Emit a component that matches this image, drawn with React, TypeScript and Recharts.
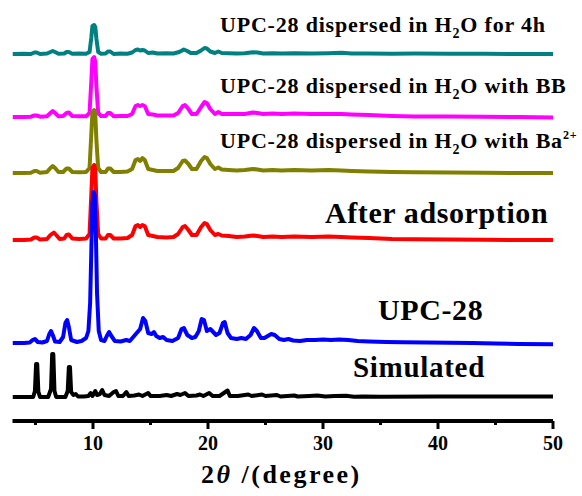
import { Line, LineChart, XAxis, YAxis } from 'recharts';

// 2θ (deg) vs relative intensity, each pattern measured from its own baseline
const forFourHours: [number, number][] = [
  [3, 0], [4, 0.3], [4.6, 0], [4.9, 1.5], [5.1, 1.5], [5.4, 0], [6.0, 0.5], [6.3, 2], [6.5, 3], [6.7, 2], [7.0, 0.3],
  [7.5, 0.5], [7.7, 2], [7.9, 2], [8.2, 0.3], [8.8, 0.5], [9.4, 0.3], [9.7, 2], [9.85, 16], [9.95, 28], [10.1, 29],
  [10.2, 27], [10.3, 15], [10.45, 2], [10.7, 0.3], [11.1, 0.5], [11.3, 2.5], [11.5, 2.5], [11.8, 0], [12.4, 0.5],
  [13.0, 0.3], [13.4, 1.5], [13.7, 4], [13.9, 4.5], [14.1, 3.5], [14.3, 4], [14.5, 3.5], [14.8, 1], [15.2, 1.5],
  [15.6, 0.5], [16.4, 0.8], [17.0, 0.5], [17.5, 2], [17.9, 4.5], [18.2, 3], [18.5, 1], [19.0, 1], [19.4, 3.5],
  [19.7, 6], [19.9, 5.5], [20.2, 2.5], [20.6, 1], [20.9, 2.5], [21.2, 1], [21.8, 0.8], [22.5, 0.5], [23.2, 0.8],
  [23.9, 1.8], [24.3, 1.5], [24.8, 0.5], [25.6, 0.8], [26.4, 0.5], [27.5, 0.8], [29, 0.5], [30.5, 0.8], [31.6, 1.2],
  [32.5, 0.5], [34, 0.6], [36, 0.3], [38, 0.4], [41, 0.2], [44, 0.3], [47, 0], [50, 0],
];

const withBB: [number, number][] = [
  [3, 0], [4, 0], [4.6, 0.3], [4.9, 1.5], [5.1, 1.5], [5.4, 0.3], [6.0, 0.8], [6.3, 4], [6.5, 6], [6.7, 4], [7.0, 0.8],
  [7.4, 1], [7.7, 4], [7.9, 4.5], [8.2, 1], [8.8, 0.8], [9.4, 0.8], [9.7, 4], [9.85, 35], [9.95, 58], [10.1, 60],
  [10.2, 55], [10.3, 30], [10.45, 4], [10.7, 1], [11.1, 1], [11.3, 4], [11.5, 4], [11.8, 0.8], [12.4, 1], [13.0, 1],
  [13.4, 3], [13.7, 11], [13.9, 12], [14.1, 11], [14.3, 12], [14.5, 11], [14.8, 3], [15.2, 2.5], [15.6, 1.5],
  [16.4, 1.5], [17.0, 1.5], [17.4, 4], [17.8, 11], [18.0, 12], [18.3, 8], [18.6, 3], [19.0, 3], [19.4, 10], [19.7, 15],
  [19.9, 14], [20.2, 8], [20.6, 3], [20.9, 5], [21.2, 3], [21.8, 3], [22.5, 3], [23.2, 3], [23.9, 4.5], [24.3, 4],
  [24.8, 3], [25.6, 3.5], [26.4, 3], [27.5, 3.5], [29, 3], [30.5, 3], [31.6, 3], [32.5, 2.5], [34, 2], [36, 1],
  [38, 0.5], [41, 0.5], [44, 0.3], [47, 0], [50, -0.5],
];

const withBa: [number, number][] = [
  [3, 0], [4, 0], [4.6, 0.3], [4.9, 2], [5.1, 2], [5.4, 0.3], [6.0, 1], [6.3, 5], [6.5, 7], [6.7, 5], [7.0, 1],
  [7.4, 1], [7.7, 4.5], [7.9, 4.5], [8.2, 1], [8.8, 0.8], [9.4, 1], [9.7, 5], [9.85, 38], [9.95, 61], [10.1, 63],
  [10.2, 58], [10.3, 32], [10.45, 5], [10.7, 1], [11.1, 1], [11.3, 4.5], [11.5, 4.5], [11.8, 1], [12.4, 1], [13.0, 1.5],
  [13.4, 4], [13.7, 13], [13.9, 14], [14.1, 12], [14.3, 15], [14.5, 13], [14.8, 4], [15.2, 3], [15.6, 2], [16.4, 2],
  [17.0, 2], [17.4, 5], [17.8, 12], [18.0, 12.5], [18.3, 9], [18.6, 4], [19.0, 4], [19.4, 12], [19.7, 16], [19.9, 15],
  [20.2, 9], [20.6, 4], [20.9, 5.5], [21.2, 3.5], [21.8, 3], [22.5, 2.5], [23.2, 3], [23.9, 4], [24.3, 3.5],
  [24.8, 2.5], [25.6, 3], [26.4, 2.5], [27.5, 3], [29, 2.5], [30.5, 3], [31.6, 2.5], [32.5, 2], [34, 1.5], [36, 1],
  [38, 0.8], [41, 0.5], [44, 0.3], [47, 0], [50, 0],
];

const afterAdsorption: [number, number][] = [
  [3, 0], [4, 0], [4.6, 0.5], [4.9, 2.5], [5.1, 2.5], [5.4, 0.5], [6.0, 1], [6.3, 5], [6.6, 7.5], [6.8, 5], [7.1, 1],
  [7.5, 1.5], [7.7, 5], [7.9, 5.5], [8.2, 1.5], [8.8, 1], [9.4, 1.5], [9.7, 6], [9.85, 45], [9.95, 72], [10.1, 75],
  [10.2, 70], [10.3, 38], [10.45, 6], [10.7, 1.5], [11.1, 1.5], [11.3, 5], [11.5, 5], [11.8, 1.5], [12.4, 1.5],
  [13.0, 2], [13.4, 5], [13.7, 14], [13.9, 15], [14.1, 13], [14.3, 15], [14.5, 14], [14.8, 5], [15.2, 4], [15.6, 3],
  [16.4, 2.5], [17.0, 3], [17.4, 6], [17.8, 13], [18.0, 14], [18.3, 10], [18.6, 5], [19.0, 5], [19.4, 13], [19.7, 17],
  [19.9, 16], [20.2, 10], [20.6, 5], [20.9, 6], [21.2, 4.5], [21.8, 4], [22.5, 3], [23.2, 3.5], [23.9, 4.5],
  [24.3, 4], [24.8, 3], [25.6, 3.5], [26.4, 3], [27.5, 3.5], [29, 3], [30.5, 3.5], [31.6, 3], [32.5, 2.5], [34, 2],
  [36, 1], [38, 0.8], [41, 0.5], [44, 0.3], [47, 0], [50, 0],
];

const upc28: [number, number][] = [
  [3, 0], [4, 0], [4.5, 0.5], [4.75, 3], [4.95, 4], [5.2, 1], [5.6, 0.5], [6.0, 2], [6.2, 9], [6.35, 12], [6.5, 8],
  [6.7, 1.5], [7.1, 1], [7.4, 6], [7.6, 20], [7.75, 23], [7.9, 16], [8.1, 3], [8.6, 1], [9.0, 2], [9.4, 5], [9.6, 12],
  [9.75, 40], [9.85, 90], [9.95, 140], [10.05, 151], [10.15, 148], [10.25, 110], [10.35, 50], [10.5, 12], [10.7, 3],
  [11.0, 2], [11.2, 7], [11.4, 11], [11.6, 7], [11.9, 2], [12.4, 1.5], [12.9, 3], [13.2, 2], [13.5, 6], [13.8, 10],
  [14.1, 14], [14.35, 25], [14.55, 22], [14.8, 10], [15.1, 9], [15.3, 11], [15.5, 7], [15.8, 5], [16.1, 6],
  [16.4, 3], [16.9, 2], [17.4, 5], [17.7, 14], [17.9, 15], [18.2, 8], [18.6, 5], [18.9, 6], [19.2, 12], [19.45, 24],
  [19.65, 23], [19.9, 12], [20.2, 14], [20.45, 11], [20.7, 8], [21.0, 10], [21.3, 20], [21.45, 21], [21.7, 10],
  [22.0, 5], [22.5, 4], [22.9, 5], [23.3, 4], [23.7, 8], [24.0, 15], [24.25, 12], [24.6, 5], [24.9, 5], [25.2, 7],
  [25.5, 9], [25.8, 8], [26.2, 4], [26.6, 3], [27.0, 4], [27.4, 2.5], [28.0, 2], [28.6, 3], [29.3, 3], [30.0, 3.5],
  [30.7, 3], [31.4, 3.5], [32.2, 3], [33, 2], [34, 1.5], [35.5, 1], [37, 0.8], [39, 0.5], [41, 0.3], [43, 0],
  [45, -0.5], [47, -1], [50, -1.2],
];

const simulated: [number, number][] = [
  [3, 0], [4, 0], [4.8, 0], [4.95, 6], [5.05, 33], [5.15, 33], [5.25, 5], [5.4, 0], [6.1, 0], [6.35, 8], [6.45, 43],
  [6.55, 43], [6.65, 6], [6.8, 0], [7.6, 0], [7.8, 6], [7.9, 30], [8.0, 30], [8.1, 5], [8.3, 2], [8.5, 3], [8.7, 0.5],
  [9.2, 0.5], [9.6, 1], [9.8, 4], [9.95, 1], [10.2, 6], [10.35, 2], [10.6, 3], [10.8, 7], [11.0, 2], [11.4, 1],
  [11.8, 5], [12.0, 6], [12.2, 1], [12.6, 1], [12.9, 5], [13.1, 1], [13.6, 1.5], [14.0, 2.5], [14.3, 1], [14.8, 4],
  [15.0, 1], [15.8, 1], [16.4, 2], [16.8, 1], [17.3, 3], [17.6, 2], [18.0, 4], [18.3, 1], [19.0, 1.5], [19.3, 2.5],
  [19.6, 1], [20.1, 4], [20.4, 1], [21.0, 1], [21.7, 6.5], [21.9, 1], [22.6, 1], [23.5, 2.5], [23.8, 1], [24.7, 2.5],
  [25.0, 1], [26.0, 2], [26.3, 0.5], [27.5, 1.5], [27.8, 0.5], [28.8, 1], [29.5, 1.5], [30.2, 0.5], [31.0, 1],
  [32.0, 1.2], [32.7, 0.3], [33.5, 0.5], [35, 0.3], [40, 0.5], [45, 0.5], [50, 0.5],
];

const xTicks = [5, 10, 15, 20, 25, 30, 35, 40, 45, 50];

// stacking: vertical offset of each pattern's baseline (drawn top to bottom so lower traces sit on top)
const traces = [
  { key: 'h2o4h', points: forFourHours, offset: 367, color: '#008080' },
  { key: 'bb', points: withBB, offset: 304, color: '#ff00ff' },
  { key: 'ba', points: withBa, offset: 248, color: '#808000' },
  { key: 'after', points: afterAdsorption, offset: 181, color: '#ff0000' },
  { key: 'upc', points: upc28, offset: 78, color: '#0000ff' },
  { key: 'sim', points: simulated, offset: 24, color: '#000000' },
];

const serif = '"Liberation Serif", "Times New Roman", serif';

const AxisTick = ({ x, y, payload }: any) => {
  const major = payload.value % 10 === 0;
  return (
    <g>
      <line x1={x} x2={x} y1={y} y2={y + (major ? 8 : 4)} stroke="#000" strokeWidth={3} />
      {major && (
        <text x={x} y={y + 29} textAnchor="middle" fontFamily={serif} fontWeight="bold" fontSize={20} fill="#000">
          {payload.value}
        </text>
      )}
    </g>
  );
};

const AxisTitle = () => (
  <text x={201} y={483} fontFamily={serif} fontWeight="bold" fontSize={26} fill="#000" style={{ letterSpacing: 2.5 }}>
    2<tspan fontStyle="italic">θ</tspan> /(degree)
  </text>
);

const Labels = () => (
  <g fontFamily={serif} fontWeight="bold" fill="#000">
    <text x={220} y={32} fontSize={22} style={{ letterSpacing: 0.8 }}>
      UPC-28 dispersed in H<tspan fontSize={14} dy={6}>2</tspan>
      <tspan dy={-6}>O for 4h</tspan>
    </text>
    <text x={220} y={93} fontSize={22} style={{ letterSpacing: 0.8 }}>
      UPC-28 dispersed in H<tspan fontSize={14} dy={6}>2</tspan>
      <tspan dy={-6}>O with BB</tspan>
    </text>
    <text x={220} y={148} fontSize={22} style={{ letterSpacing: 0.8 }}>
      UPC-28 dispersed in H<tspan fontSize={14} dy={6}>2</tspan>
      <tspan dy={-6}>O with Ba</tspan>
      <tspan fontSize={12} dy={-9}>2+</tspan>
    </text>
    <text x={325} y={223} fontSize={30} style={{ letterSpacing: 0.6 }}>After adsorption</text>
    <text x={378} y={320} fontSize={30} style={{ letterSpacing: 0.6 }}>UPC-28</text>
    <text x={353} y={377} fontSize={29} style={{ letterSpacing: 0.7 }}>Simulated</text>
  </g>
);

export default function App() {
  return (
    <div style={{ position: 'absolute', left: 0, top: 0, background: '#fff' }}>
      <LineChart width={582} height={496} margin={{ top: 8, right: 29, bottom: 0, left: 12.5 }}>
        <XAxis
          dataKey="x"
          type="number"
          domain={[3, 50]}
          ticks={xTicks}
          allowDataOverflow
          height={75}
          axisLine={{ stroke: '#000', strokeWidth: 4 }}
          tickLine={false}
          tickSize={0}
          tickMargin={0}
          tick={<AxisTick />}
          interval={0}
        />
        <YAxis hide type="number" domain={[0, 413]} allowDataOverflow />
        {traces.map((t) => (
          <Line
            key={t.key}
            data={t.points.map(([x, v]) => ({ x, y: v + t.offset }))}
            dataKey="y"
            type="linear"
            stroke={t.color}
            strokeWidth={4}
            strokeLinejoin="round"
            dot={false}
            activeDot={false}
            isAnimationActive={false}
          />
        ))}
        <Labels />
        <AxisTitle />
      </LineChart>
    </div>
  );
}
